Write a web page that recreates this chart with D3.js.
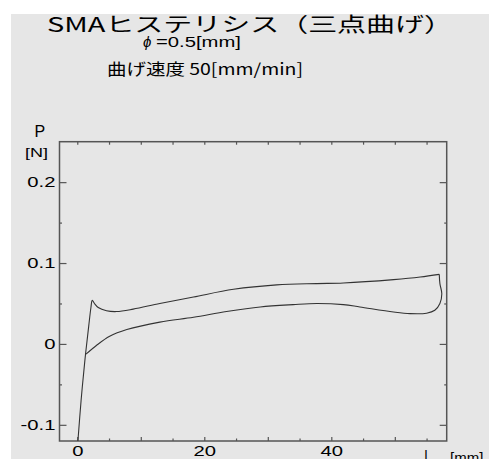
<!DOCTYPE html>
<html>
<head>
<meta charset="utf-8">
<script src="https://cdn.jsdelivr.net/npm/d3@7/dist/d3.min.js"></script>
<style>
  html, body { margin: 0; padding: 0; background: #fff; }
  text { font-family: "Liberation Sans", Arial, sans-serif; fill: #000; }
  .jp { font-family: "Noto Sans CJK JP", "Liberation Sans", sans-serif; }
</style>
</head>
<body>
<div id="container"></div>
<script>
// Chart texts
var titleText = 'SMAヒステリシス（三点曲げ）',
  phiText = 'ϕ',
  subText1 = '=0.5[mm]',
  subText2 = '曲げ速度 50[mm/min]';

// Tick values
var xMajor = [0, 10, 20, 30, 40, 50],
  xMinor = [5, 15, 25, 35, 45, 55],
  xLabels = [0, 20, 40],
  yMajor = [-0.1, 0, 0.1, 0.2],
  yMinor = [-0.05, 0.05, 0.15];

// Loading branch: deflection [mm], load [N]
var loadX = [0.1, 0.6, 1.2, 1.8, 2.15, 2.36, 2.7, 3.3, 4.6, 6.2, 8.8, 13.0, 18.3, 24.6, 31.4, 37.7, 41.9, 49.8, 54.0, 57.0];
var loadY = [-0.12, -0.07, -0.02, 0.022, 0.045, 0.054, 0.050, 0.045, 0.041, 0.040, 0.043, 0.050, 0.058, 0.0675, 0.073, 0.0746, 0.0753, 0.0795, 0.0827, 0.086];

// Unloading branch
var unloadX = [57.0, 57.1, 57.4, 57.1, 56.3, 55.0, 52.4, 49.8, 44.5, 41.9, 37.7, 34.0, 28.8, 23.5, 18.3, 13.0, 7.8, 5.1, 3.05, 1.37];
var unloadY = [0.086, 0.0746, 0.062, 0.050, 0.0416, 0.038, 0.0375, 0.0395, 0.0457, 0.0486, 0.050, 0.0486, 0.0457, 0.040, 0.033, 0.027, 0.0178, 0.0095, -0.0016, -0.0127];

var width = 489,
  height = 459;

var svg = d3.select('#container').append('svg').attr('width', width).attr('height', height);

// grey panel
svg.append('rect').attr('x', 11).attr('y', 14).attr('width', width - 11).attr('height', height - 14).attr('fill', '#e6e6e6');

// Plot area
var pLeft = 59.5, pRight = 446.7, pTop = 141.7, pBottom = 441;

var x = d3.scaleLinear().domain([-2.8, 58.17]).range([pLeft, pRight]);
var y = d3.scaleLinear().domain([-0.12, 0.25]).range([pBottom, pTop]);

// inward ticks on all four sides
function ticks(axis, tx, ty) {
  var g = svg.append('g').attr('transform', 'translate(' + tx + ',' + ty + ')').call(axis.tickFormat(''));
  g.select('.domain').remove();
  g.selectAll('line').attr('stroke', '#555').attr('stroke-width', 1.2);
  return g;
}
ticks(d3.axisBottom(x).tickValues(xMajor).tickSize(-4), 0, pBottom);
ticks(d3.axisBottom(x).tickValues(xMinor).tickSize(-2.5), 0, pBottom);
ticks(d3.axisTop(x).tickValues(xMajor).tickSize(-3), 0, pTop);
ticks(d3.axisTop(x).tickValues(xMinor).tickSize(-3), 0, pTop);
ticks(d3.axisLeft(y).tickValues(yMajor).tickSize(-7), pLeft, 0);
ticks(d3.axisLeft(y).tickValues(yMinor).tickSize(-2.5), pLeft, 0);
ticks(d3.axisRight(y).tickValues(yMajor).tickSize(-7), pRight, 0);
ticks(d3.axisRight(y).tickValues(yMinor).tickSize(-2.5), pRight, 0);

// frame
svg.append('rect').attr('x', pLeft).attr('y', pTop).attr('width', pRight - pLeft).attr('height', pBottom - pTop)
  .attr('fill', 'none').attr('stroke', '#555').attr('stroke-width', 1.5);

// tick labels
var yl = svg.append('g').attr('transform', 'translate(' + pLeft + ',0)')
  .call(d3.axisLeft(y).tickValues(yMajor).tickSize(0).tickPadding(3)
    .tickFormat(function (d) { return d === 0 ? '0' : d.toFixed(1); }));
yl.select('.domain').remove();
yl.selectAll('text').attr('font-size', 15).attr('font-family', null).attr('fill', '#000')
  .attr('transform', 'scale(1.35,1)');

var xl = svg.append('g').attr('transform', 'translate(0,' + pBottom + ')')
  .call(d3.axisBottom(x).tickValues(xLabels).tickSize(0).tickPadding(4).tickFormat(d3.format('d')));
xl.select('.domain').remove();
xl.selectAll('text').attr('font-size', 15).attr('font-family', null).attr('fill', '#000')
  .attr('transform', 'scale(1.35,1)');

// curves
var line = d3.line().x(function (d) { return x(d[0]); }).y(function (d) { return y(d[1]); })
  .curve(d3.curveCatmullRom.alpha(0.5));

svg.append('path').datum(d3.zip(loadX, loadY)).attr('d', line)
  .attr('fill', 'none').attr('stroke', '#333').attr('stroke-width', 1.1);
svg.append('path').datum(d3.zip(unloadX, unloadY)).attr('d', line)
  .attr('fill', 'none').attr('stroke', '#333').attr('stroke-width', 1.1);

// titles
svg.append('text').attr('class', 'jp').attr('x', 47).attr('y', 32).attr('font-size', 20)
  .attr('textLength', 406).attr('lengthAdjust', 'spacingAndGlyphs').text(titleText);
svg.append('text').attr('x', 143).attr('y', 47).attr('font-size', 15).attr('font-style', 'italic').text(phiText);
svg.append('text').attr('x', 156).attr('y', 47).attr('font-size', 15)
  .attr('textLength', 85).attr('lengthAdjust', 'spacingAndGlyphs').text(subText1);
svg.append('text').attr('class', 'jp').attr('x', 107).attr('y', 74.5).attr('font-size', 16)
  .attr('textLength', 196).attr('lengthAdjust', 'spacingAndGlyphs').text(subText2);

// axis titles
svg.append('text').attr('x', 34.5).attr('y', 136.5).attr('font-size', 16).text('P');
svg.append('text').attr('x', 25).attr('y', 156.5).attr('font-size', 13)
  .attr('textLength', 23).attr('lengthAdjust', 'spacingAndGlyphs').text('[N]');
svg.append('text').attr('x', 424).attr('y', 461).attr('font-size', 15).text('|');
svg.append('text').attr('x', 450).attr('y', 462.5).attr('font-size', 15).text('[mm]');
</script>
</body>
</html>
